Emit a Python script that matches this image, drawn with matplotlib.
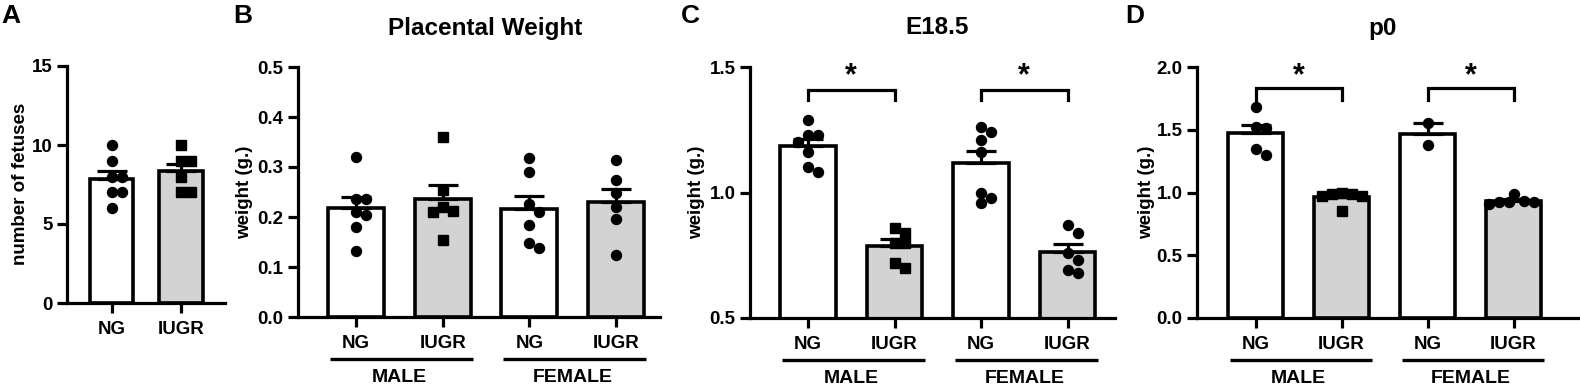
import numpy as np
import matplotlib
matplotlib.use('Agg')
import matplotlib.pyplot as plt
from matplotlib import transforms

plt.rcParams['font.family'] = ['Liberation Sans', 'DejaVu Sans']
plt.rcParams['font.weight'] = 'bold'

# ---- data ----
groups = ['NG', 'IUGR']
sexes = ['MALE', 'FEMALE']

a_ng = [10, 9, 8, 8, 7, 7, 6]
a_iugr = [10, 9, 9, 8, 7, 7]

b_male_ng = [0.32, 0.237, 0.237, 0.21, 0.205, 0.18, 0.132]
b_male_iugr = [0.36, 0.254, 0.22, 0.213, 0.21, 0.154]
b_fem_ng = [0.318, 0.29, 0.226, 0.21, 0.185, 0.148, 0.138]
b_fem_iugr = [0.314, 0.274, 0.248, 0.22, 0.196, 0.124]

c_male_ng = [1.29, 1.23, 1.23, 1.20, 1.16, 1.10, 1.08]
c_male_iugr = [0.86, 0.84, 0.80, 0.80, 0.72, 0.70]
c_fem_ng = [1.26, 1.24, 1.21, 1.16, 1.00, 0.98, 0.96]
c_fem_iugr = [0.87, 0.84, 0.76, 0.73, 0.69, 0.68]

d_male_ng = [1.68, 1.52, 1.51, 1.35, 1.30]
d_male_iugr = [1.00, 0.99, 0.99, 0.97, 0.97, 0.85]
d_fem_ng = [1.55, 1.38]
d_fem_iugr = [0.99, 0.93, 0.925, 0.925, 0.925, 0.91]

W, H = 1580, 388
fig = plt.figure(figsize=(W / 100, H / 100), dpi=100)
GRAY = '#d3d3d3'
LW = 2.3


def px_axes(x0, x1, ytop, ybot):
    return fig.add_axes([x0 / W, 1 - ybot / H, (x1 - x0) / W, (ybot - ytop) / H])


def swarm(ax, x0, vals, d=10.0, step=5.0):
    # simple beeswarm in pixel space
    pts = ax.transData.transform([(x0, v) for v in vals])
    sx = ax.transData.transform((1, 0))[0] - ax.transData.transform((0, 0))[0]
    order = np.argsort(-np.array(vals), kind='stable')
    placed = []
    offs = np.zeros(len(vals))
    for i in order:
        px, py = pts[i]
        k = 0
        done = False
        while not done:
            cands = [0.0] if k == 0 else [k * step, -k * step]
            for c in cands:
                ok = all(np.hypot(px + c - qx, py - qy) >= d * 0.95 for qx, qy in placed)
                if ok:
                    placed.append((px + c, py))
                    offs[i] = c / sx
                    done = True
                    break
            k += 1
    return x0 + offs


def style_axes(ax, ylim, yticks, ylabels):
    ax.set_ylim(*ylim)
    ax.set_yticks(yticks)
    ax.set_yticklabels(ylabels, fontweight='bold')
    for s in ['top', 'right']:
        ax.spines[s].set_visible(False)
    for s in ['left', 'bottom']:
        ax.spines[s].set_linewidth(LW)
    ax.tick_params(width=LW, length=7.5, labelsize=13.5, pad=3)
    ax.tick_params(axis='x', pad=5.5)
    ax.set_facecolor('none')


def draw_bar(ax, x, vals, color, marker, width):
    m = np.mean(vals)
    sem = np.std(vals, ddof=1) / np.sqrt(len(vals))
    ax.bar(x, m, width=width, color=color, edgecolor='black', linewidth=2.6, zorder=1)
    ax.errorbar(x, m, yerr=[[0], [sem]], fmt='none', ecolor='black', elinewidth=LW,
                capsize=11, capthick=LW, zorder=2)
    xs = swarm(ax, x, vals)
    ms = 7.2 if marker == 'o' else 6.6
    ax.plot(xs, vals, linestyle='none', marker=marker, color='black', markersize=ms,
            zorder=3, clip_on=False)


def sex_labels(ax, starts):
    tr = ax.get_xaxis_transform()
    line_tr = tr + transforms.ScaledTranslation(0, -0.415, fig.dpi_scale_trans)
    txt_tr = tr + transforms.ScaledTranslation(0, -0.605, fig.dpi_scale_trans)
    for x0, name in zip(starts, sexes):
        ax.plot([x0 - 0.3, x0 + 1.35], [0, 0], color='black', lw=2.4, transform=line_tr,
                clip_on=False, solid_capstyle='butt')
        ax.text(x0 + 0.5, 0, name, transform=txt_tr, ha='center', va='center',
                fontsize=14, fontweight='bold')


def bracket(ax, x1, x2, y, drop, star_y):
    ax.plot([x1, x1, x2, x2], [y - drop, y, y, y - drop], color='black', lw=LW,
            clip_on=False, solid_joinstyle='miter')
    ax.text((x1 + x2) / 2, star_y, '*', ha='center', va='center', fontsize=22,
            fontweight='bold', clip_on=False)


# ---- panel A ----
axA = px_axes(67, 225, 66, 303)
axA.set_xlim((67 - 111.5) / 69.5, (225 - 111.5) / 69.5)
style_axes(axA, (0, 15), [0, 5, 10, 15], ['0', '5', '10', '15'])
axA.set_xticks([0, 1])
axA.set_xticklabels(groups, fontweight='bold')
draw_bar(axA, 0, a_ng, 'white', 'o', 0.62)
draw_bar(axA, 1, a_iugr, GRAY, 's', 0.62)


def four_panel(ax, x0, x1, c0, s, data, markers, ylim, yticks, ylabels):
    ax.set_xlim((x0 - c0) / s, (x1 - c0) / s)
    style_axes(ax, ylim, yticks, ylabels)
    ax.set_xticks([0, 1, 2, 3])
    ax.set_xticklabels(groups * 2, fontweight='bold')
    colors = ['white', GRAY, 'white', GRAY]
    for i, (vals, mk) in enumerate(zip(data, markers)):
        draw_bar(ax, i, vals, colors[i], mk, 0.645)
    sex_labels(ax, [0, 2])


mk4 = ['o', 's', 'o', 'o']

axB = px_axes(298, 660, 67, 317)
four_panel(axB, 298, 660, 356, 86.7, [b_male_ng, b_male_iugr, b_fem_ng, b_fem_iugr], mk4,
           (0, 0.5), np.arange(0, 0.51, 0.1), ['0.0', '0.1', '0.2', '0.3', '0.4', '0.5'])

axC = px_axes(750, 1115, 67, 318)
four_panel(axC, 750, 1115, 808, 86.5, [c_male_ng, c_male_iugr, c_fem_ng, c_fem_iugr], mk4,
           (0.5, 1.5), [0.5, 1.0, 1.5], ['0.5', '1.0', '1.5'])
bracket(axC, 0, 1, 1.408, 0.04, 1.465)
bracket(axC, 2, 3, 1.408, 0.04, 1.465)

axD = px_axes(1197, 1578, 67, 318)
four_panel(axD, 1197, 1578, 1255.5, 86, [d_male_ng, d_male_iugr, d_fem_ng, d_fem_iugr], mk4,
           (0, 2.0), [0, 0.5, 1.0, 1.5, 2.0], ['0.0', '0.5', '1.0', '1.5', '2.0'])
bracket(axD, 0, 1, 1.833, 0.096, 1.93)
bracket(axD, 2, 3, 1.833, 0.096, 1.93)

# ---- labels ----
for x, letter in [(11, 'A'), (243, 'B'), (690, 'C'), (1135, 'D')]:
    fig.text(x / W, 1 - 16 / H, letter, ha='center', va='center', fontsize=19, fontweight='bold')
for x, t in [(485, 'Placental Weight'), (937, 'E18.5'), (1383, 'p0')]:
    fig.text(x / W, 1 - 28 / H, t, ha='center', va='center', fontsize=17.5, fontweight='bold')
fig.text(21 / W, 1 - 184 / H, 'number of fetuses', rotation=90, ha='center', va='center',
         fontsize=13.5, fontweight='bold')
for x in [245, 697, 1147]:
    fig.text(x / W, 1 - 192 / H, 'weight (g.)', rotation=90, ha='center', va='center',
             fontsize=13.5, fontweight='bold')

fig.savefig('out.png', dpi=100)
